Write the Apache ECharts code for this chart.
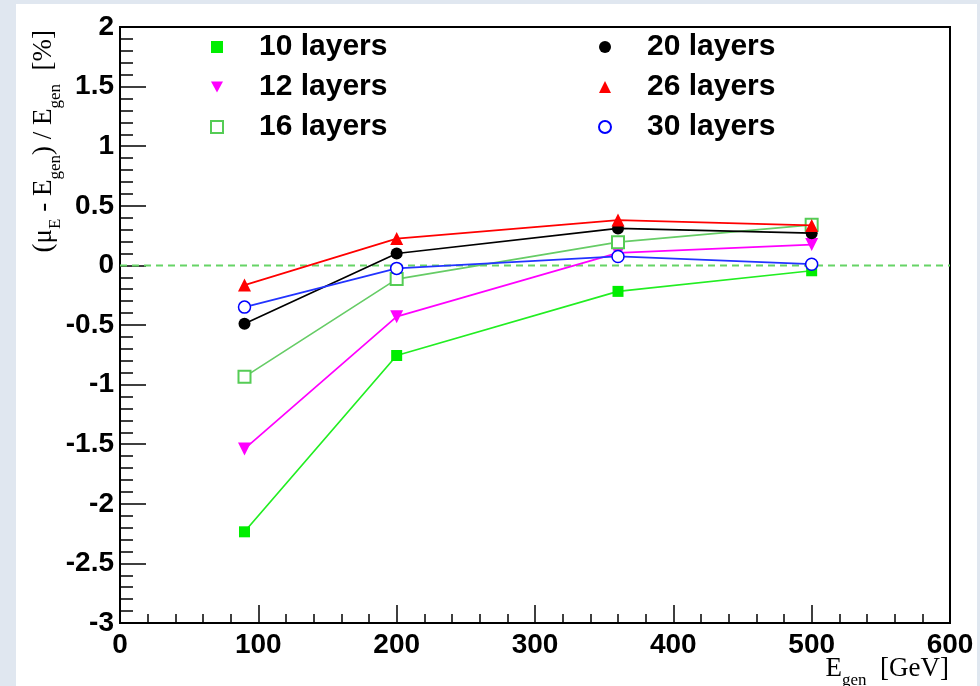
<!DOCTYPE html>
<html>
<head>
<meta charset="utf-8">
<script src="https://cdn.jsdelivr.net/npm/echarts@6/dist/echarts.min.js"></script>
<style>
html,body{margin:0;padding:0;background:#e0e7f0;}
#chart{width:980px;height:686px;}
</style>
</head>
<body>
<div id="chart"></div>
<script>
// ---- data ----
const energies = [90, 200, 360, 500];
const layers10 = [-2.235, -0.756, -0.218, -0.045];
const layers12 = [-1.54, -0.43, 0.105, 0.175];
const layers16 = [-0.935, -0.115, 0.195, 0.34];
const layers20 = [-0.49, 0.10, 0.31, 0.27];
const layers26 = [-0.165, 0.225, 0.38, 0.335];
const layers30 = [-0.35, -0.025, 0.075, 0.01];
const zeroLineX = [0, 600];
const zeroLineY = [0, 0];
const seriesNames = ['10 layers', '12 layers', '16 layers', '20 layers', '26 layers', '30 layers'];

const pts = (ys) => energies.map((x, i) => [x, ys[i]]);

const chart = echarts.init(document.getElementById('chart'), null, {renderer: 'canvas'});

const labelFont = {fontFamily: 'Liberation Sans, Arial, sans-serif', fontWeight: 'bold', fontSize: 28, color: '#000'};
const serif = 'Liberation Serif, Times New Roman, serif';

function mkSeries(name, data, color, symbol, size, itemStyle, rotate, z) {
  return {
    name: name, type: 'line', data: pts(data), symbol: symbol, symbolSize: size,
    symbolRotate: rotate || 0,
    lineStyle: {color: color, width: 1.7},
    itemStyle: itemStyle, z: z, animation: false, silent: true
  };
}

const legendText = {fontFamily: 'Liberation Sans, Arial, sans-serif', fontWeight: 'bold', fontSize: 30, color: '#000', lineHeight: 30, padding: [0, 0, 0, 31]};

const option = {
  backgroundColor: 'transparent',
  animation: false,
  graphic: [
    {type: 'rect', z: -10, shape: {x: 16, y: 4, width: 961, height: 690}, style: {fill: '#ffffff'}},
    {
      type: 'text', z: 10, x: 47, y: 30, rotation: Math.PI / 2,
      style: {
        text: '{m|(μ}{s|E}{m| - E}{s|gen}{m|) / E}{s|gen}{m|  [%]}',
        align: 'right', verticalAlign: 'middle', lineHeight: 34,
        rich: {
          m: {fontFamily: serif, fontSize: 27, verticalAlign: 'top', fill: '#000'},
          s: {fontFamily: serif, fontSize: 17, verticalAlign: 'bottom', fill: '#000'}
        }
      }
    },
    {
      type: 'text', z: 10, x: 949, y: 672,
      style: {
        text: '{m|E}{s|gen}{m|  [GeV]}',
        align: 'right', verticalAlign: 'middle', lineHeight: 34,
        rich: {
          m: {fontFamily: serif, fontSize: 27, verticalAlign: 'top', fill: '#000'},
          s: {fontFamily: serif, fontSize: 17, verticalAlign: 'bottom', fill: '#000'}
        }
      }
    }
  ],
  legend: [
    {
      left: 210, top: 32, orient: 'vertical', itemWidth: 12, itemHeight: 12, itemGap: 10, padding: 0,
      selectedMode: false, textStyle: legendText,
      data: [
        {name: seriesNames[0], icon: 'rect'},
        {name: seriesNames[1], icon: 'path://M0,0 L10,0 L5,9 Z'},
        {name: seriesNames[2], icon: 'rect'}
      ]
    },
    {
      left: 598, top: 32, orient: 'vertical', itemWidth: 12, itemHeight: 12, itemGap: 10, padding: 0,
      selectedMode: false, textStyle: legendText,
      data: [
        {name: seriesNames[3], icon: 'circle'},
        {name: seriesNames[4], icon: 'triangle'},
        {name: seriesNames[5], icon: 'circle'}
      ]
    }
  ],
  grid: {left: 120, right: 30, top: 27, bottom: 63, show: true, borderColor: '#000', borderWidth: 2, backgroundColor: 'transparent'},
  xAxis: {
    type: 'value', min: 0, max: 600, interval: 100,
    axisLine: {show: true, onZero: false, lineStyle: {color: '#000', width: 2}},
    axisTick: {show: true, inside: true, length: 18, lineStyle: {color: '#000', width: 1.5}},
    minorTick: {show: true, splitNumber: 5, length: 9, lineStyle: {color: '#000', width: 1.5}},
    splitLine: {show: false},
    axisLabel: Object.assign({margin: 8, showMinLabel: true, showMaxLabel: true, hideOverlap: false}, labelFont)
  },
  yAxis: {
    type: 'value', min: -3, max: 2, interval: 0.5,
    axisLine: {show: true, onZero: false, lineStyle: {color: '#000', width: 2}},
    axisTick: {show: true, inside: true, length: 26, lineStyle: {color: '#000', width: 1.5}},
    minorTick: {show: true, splitNumber: 5, length: 13, lineStyle: {color: '#000', width: 1.5}},
    splitLine: {show: false},
    axisLabel: Object.assign({margin: 6, showMinLabel: true, showMaxLabel: true, hideOverlap: false}, labelFont)
  },
  series: [
    {
      name: 'zero', type: 'line', data: zeroLineX.map((x, i) => [x, zeroLineY[i]]), symbol: 'none',
      lineStyle: {color: '#66d466', width: 2, type: [7, 5]}, z: 1, silent: true
    },
    mkSeries(seriesNames[0], layers10, '#22ee22', 'rect', 11, {color: '#00ee00'}, 0, 2),
    mkSeries(seriesNames[1], layers12, '#ff00ff', 'triangle', 13, {color: '#ff00ff'}, 180, 3),
    mkSeries(seriesNames[2], layers16, '#66cc66', 'rect', 12, {color: '#ffffff', borderColor: '#55cc55', borderWidth: 2}, 0, 4),
    mkSeries(seriesNames[3], layers20, '#000000', 'circle', 12, {color: '#000000'}, 0, 5),
    mkSeries(seriesNames[4], layers26, '#ff0000', 'triangle', 13, {color: '#ff0000'}, 0, 6),
    mkSeries(seriesNames[5], layers30, '#2233ff', 'circle', 12, {color: '#ffffff', borderColor: '#0000ff', borderWidth: 1.5}, 0, 7)
  ]
};
chart.setOption(option);
</script>
</body>
</html>
